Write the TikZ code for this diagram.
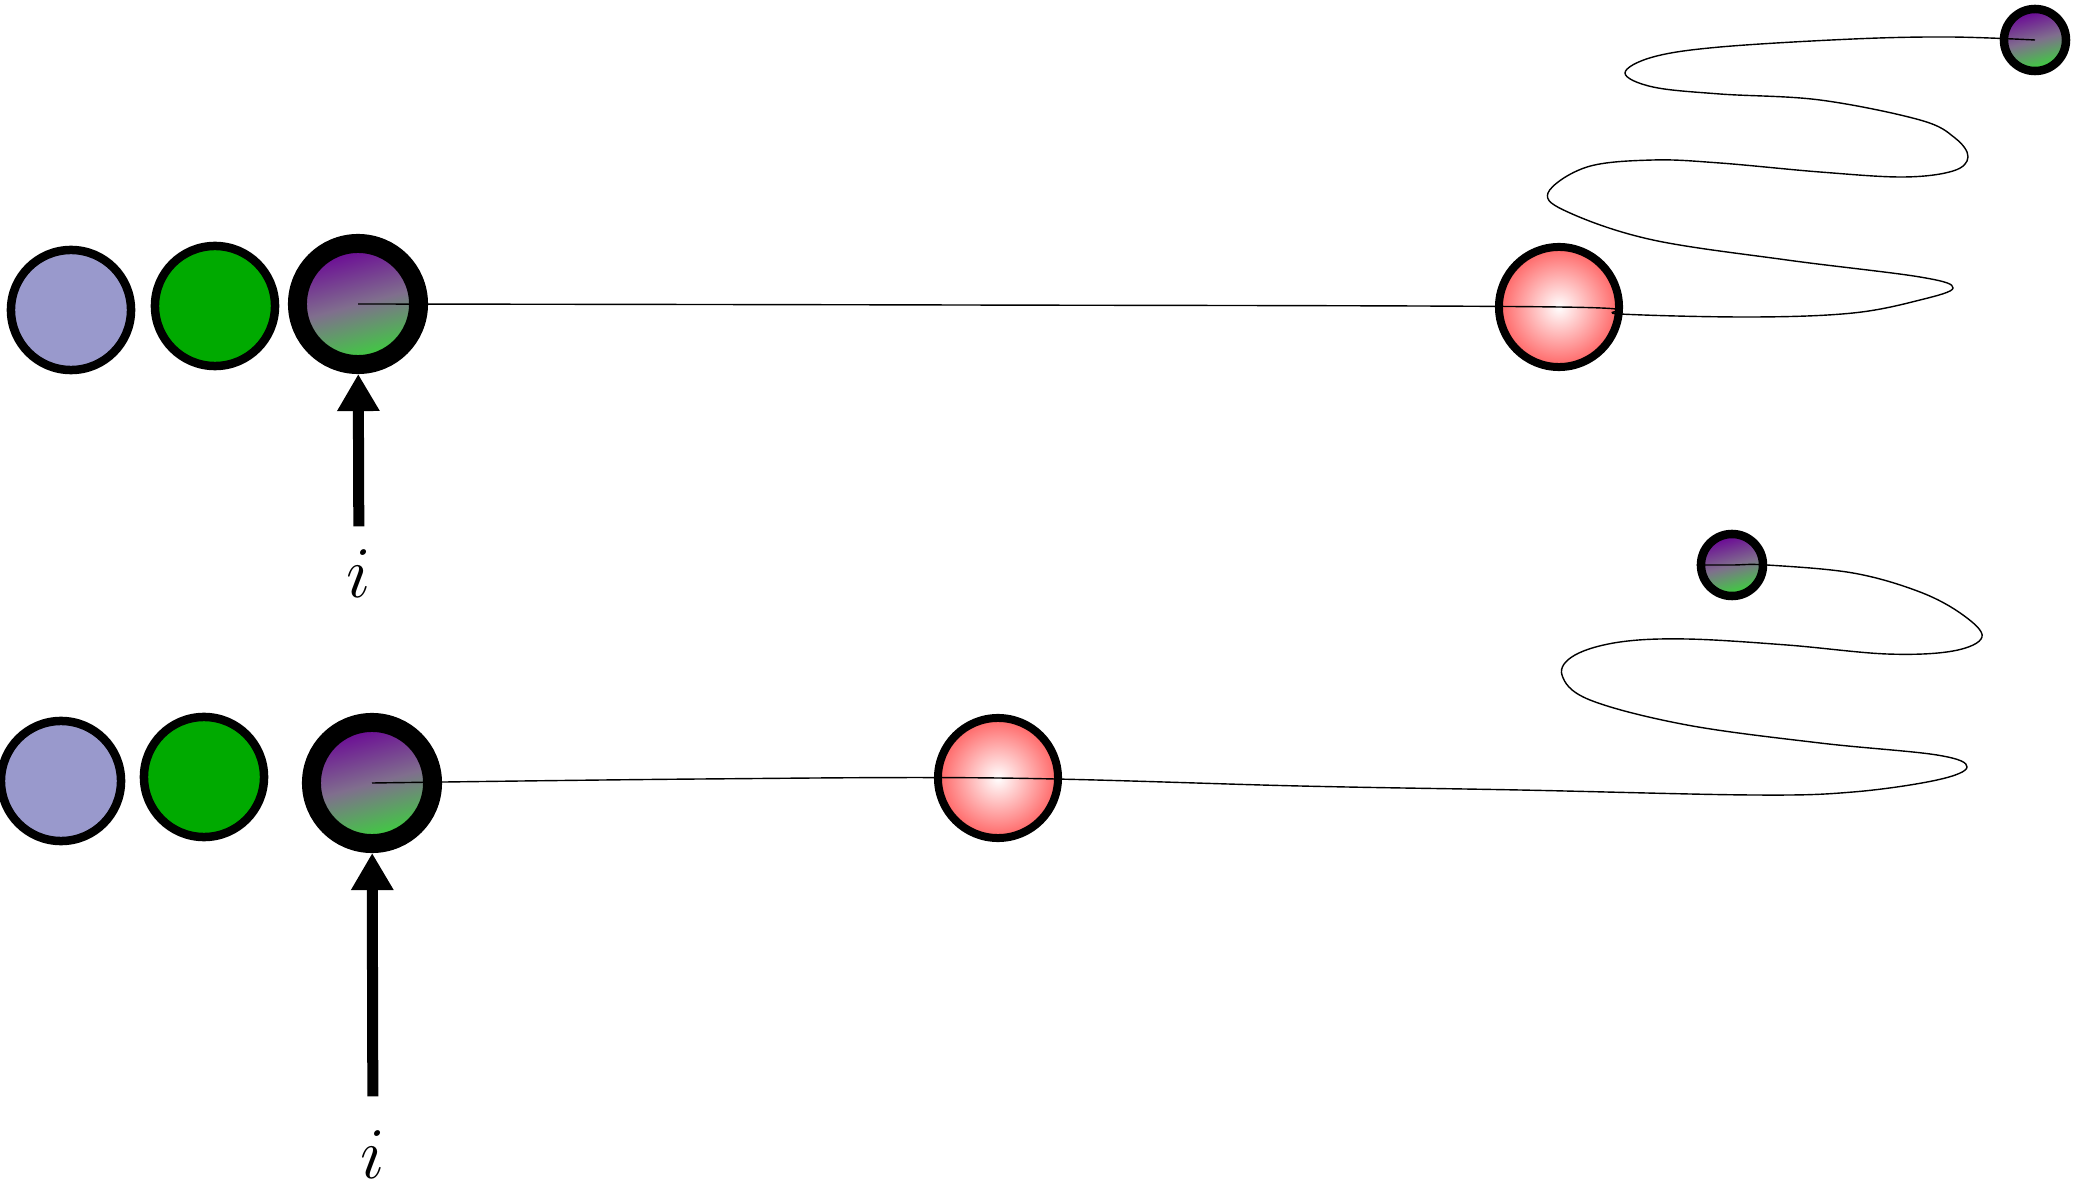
\documentclass[tikz,border=0pt]{standalone}
\usetikzlibrary{arrows.meta}
\definecolor{slot}{RGB}{153,153,204}
\definecolor{leaf}{RGB}{0,170,0}
\definecolor{plum}{RGB}{105,0,150}
\definecolor{haze}{RGB}{128,110,142}
\definecolor{lime}{RGB}{55,215,55}
\definecolor{rose}{RGB}{255,100,100}
\begin{document}
\begin{tikzpicture}[x=0.01cm,y=-0.01cm,
  ball/.style={circle,draw,line width=0.085cm,minimum size=1.2cm,inner sep=0pt},
  cur/.style={ball,line width=0.19cm,minimum size=1.21cm,top color=plum,bottom color=lime,middle color=haze,shading angle=15},
  tiny/.style={cur,line width=0.085cm,minimum size=0.62cm},
  hit/.style={ball,line width=0.08cm,inner color=white,outer color=rose},
  pusher/.style={line width=0.11cm,-{Triangle[width=0.4cm,length=0.37cm]}},
  lab/.style={font=\fontsize{21.5}{26}\selectfont,inner sep=0pt}]
\useasboundingbox (0,0) rectangle (2074,1188);
% first row
\node[ball,fill=slot] (a1) at (71,310) {};
\node[ball,fill=leaf] (b1) at (215,306) {};
\node[cur] (p1) at (358,304) {};
\node[hit] (k1) at (1559,307) {};
\node[tiny] (s1) at (2035,40) {};
\node[lab] (i1) at (359,574) {$i$};
\draw[pusher,shorten <=0.23cm] (i1) -- (p1);
\draw[thin] plot[smooth,tension=.6] coordinates {(p1) (960,305) (k1) (1620,314)
  (1753,317) (1853,313) (1920,300) (1953,288) (1920,277) (1787,260) (1653,240)
  (1570,213) (1548,193) (1587,167) (1653,160) (1720,163) (1820,172) (1903,177)
  (1953,171) (1968,157) (1955,138) (1920,120) (1820,100) (1720,94) (1653,87)
  (1625,73) (1653,57) (1720,47) (1853,39) (1950,37) (s1)};
% second row
\node[ball,fill=slot] (a2) at (61,781) {};
\node[ball,fill=leaf] (b2) at (204,777) {};
\node[cur] (p2) at (372,783) {};
\node[hit] (k2) at (998,778) {};
\node[tiny] (s2) at (1732,565) {};
\node[lab] (i2) at (373,1155) {$i$};
\draw[pusher,shorten <=0.34cm] (i2) -- (p2);
\draw[thin] plot[smooth,tension=.6] coordinates {(p2) (700,779) (k2) (1300,786)
  (1520,790) (1753,795) (1853,792) (1937,780) (1967,767) (1937,755) (1820,743)
  (1687,725) (1590,700) (1562,675) (1575,655) (1620,642) (1687,639) (1787,645)
  (1887,654) (1953,651) (1982,637) (1963,615) (1920,592) (1853,573) (1767,565)
  (s2) (s2.west)};
\end{tikzpicture}
\end{document}
